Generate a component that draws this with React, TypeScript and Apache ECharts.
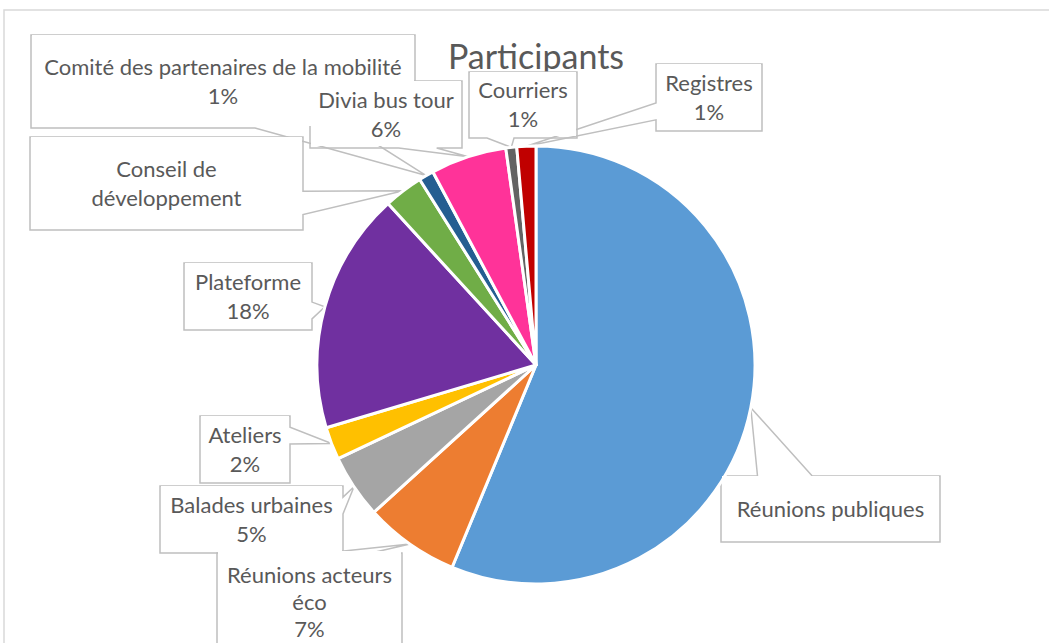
import React, { useEffect, useRef } from "react";
import * as echarts from "echarts";

const CATEGORIES = [
  "Réunions publiques",
  "Réunions acteurs éco",
  "Balades urbaines",
  "Ateliers",
  "Plateforme",
  "Conseil de développement",
  "Comité des partenaires de la mobilité",
  "Divia bus tour",
  "Courriers",
  "Registres",
];
const VALUES = [56.2, 7.0, 4.7, 2.4, 17.8, 2.9, 1.1, 5.6, 0.8, 1.4];
const LABEL_LINES = [
  "Réunions publiques",
  "Réunions acteurs\néco",
  "Balades urbaines",
  "Ateliers",
  "Plateforme",
  "Conseil de\ndéveloppement",
  "Comité des partenaires de la mobilité",
  "Divia bus tour",
  "Courriers",
  "Registres",
];
const SHOW_PERCENT = [false, true, true, true, true, false, true, true, true, true];
const COLORS = [
  "#5B9BD5",
  "#ED7D31",
  "#A5A5A5",
  "#FFC000",
  "#7030A0",
  "#70AD47",
  "#255E91",
  "#FF3399",
  "#636363",
  "#C00000",
];
const TITLE = "Participants";

// callout boxes (layout): x, y, w, h, text offset, line height
const LABEL_BOXES = [
  { x: 721, y: 476, w: 219, h: 66, ty: -1, lh: 29 },
  { x: 217, y: 553, w: 185, h: 102, ty: -3, lh: 27 },
  { x: 160, y: 486, w: 183, h: 67, ty: -1, lh: 29 },
  { x: 200, y: 416, w: 90, h: 67, ty: -1, lh: 29 },
  { x: 184, y: 263, w: 128, h: 67, ty: -1, lh: 29 },
  { x: 30, y: 137, w: 273, h: 93, ty: -1, lh: 29 },
  { x: 31, y: 35, w: 384, h: 93, ty: -1, lh: 29 },
  { x: 310, y: 81, w: 152, h: 67, ty: -1, lh: 29 },
  { x: 469, y: 72, w: 108, h: 66, ty: -1, lh: 29 },
  { x: 656, y: 64, w: 106, h: 67, ty: -1, lh: 29 },
];

const FONT = "Lato, 'Open Sans', sans-serif";
const LINE_COLOR = "#BFBFBF";

function calloutOutline(b: { x: number; y: number; w: number; h: number }, tip: number[]) {
  const { x, y, w, h } = b;
  const cx = x + w / 2;
  const cy = y + h / 2;
  const dx = tip[0] - cx;
  const dy = tip[1] - cy;
  const dz = Math.abs(dy) - Math.abs((dx * h) / w);
  const L = x, R = x + w, T = y, B = y + h;
  const xa = x + (w * (dx > 0 ? 7 : 2)) / 12;
  const xb = x + (w * (dx > 0 ? 10 : 5)) / 12;
  const ya = y + (h * (dy > 0 ? 7 : 2)) / 12;
  const yb = y + (h * (dy > 0 ? 10 : 5)) / 12;
  let pts: number[][];
  if (dz > 0) {
    if (dy < 0) pts = [[L, T], [xa, T], tip, [xb, T], [R, T], [R, B], [L, B], [L, T]];
    else pts = [[L, T], [R, T], [R, B], [xb, B], tip, [xa, B], [L, B], [L, T]];
  } else {
    if (dx < 0) pts = [[L, T], [R, T], [R, B], [L, B], [L, yb], tip, [L, ya], [L, T]];
    else pts = [[L, T], [R, T], [R, ya], tip, [R, yb], [R, B], [L, B], [L, T]];
  }
  pts.push(pts[1]);
  return pts;
}

export default function App() {
  const ref = useRef<HTMLDivElement>(null);

  useEffect(() => {
    document.body.style.margin = "0";
    if (!ref.current) return;
    const chart = echarts.init(ref.current, undefined, { renderer: "svg" });

    const data = CATEGORIES.map((name, i) => ({
      name,
      value: VALUES[i],
      itemStyle: { color: COLORS[i] },
      label: {
        width: LABEL_BOXES[i].w - 2,
        height: LABEL_BOXES[i].h - 2,
        lineHeight: LABEL_BOXES[i].lh,
      },
    }));

    chart.setOption({
      animation: false,
      backgroundColor: "#ffffff",
      graphic: [
        {
          type: "rect",
          shape: { x: 4, y: 10, width: 1100, height: 700 },
          style: { fill: "none", stroke: "#D9D9D9", lineWidth: 1.5 },
          silent: true,
          z: -10,
        },
        {
          type: "text",
          x: 536,
          y: 55,
          style: {
            text: TITLE,
            fill: "#595959",
            fontSize: 34,
            fontFamily: FONT,
            align: "center",
            verticalAlign: "middle",
          },
          silent: true,
        },
      ],
      series: [
        {
          type: "pie",
          center: [536, 365],
          radius: 219,
          startAngle: 90,
          clockwise: true,
          avoidLabelOverlap: false,
          silent: true,
          emphasis: { disabled: true },
          itemStyle: { borderColor: "#ffffff", borderWidth: 3 },
          label: {
            show: true,
            position: "outside",
            overflow: "none",
            color: "#595959",
            fontFamily: FONT,
            fontSize: 22,
            lineHeight: 29,
            backgroundColor: "#ffffff",
            padding: 0,
            align: "center",
            verticalAlign: "middle",
            formatter: (p: any) =>
              LABEL_LINES[p.dataIndex] +
              (SHOW_PERCENT[p.dataIndex] ? "\n" + Math.round(p.percent) + "%" : ""),
          },
          labelLine: {
            show: true,
            length: 10,
            length2: 10,
            smooth: false,
            lineStyle: { color: LINE_COLOR, width: 1.5 },
          },
          labelLayout: (params: any) => {
            const i = params.dataIndex;
            const b = LABEL_BOXES[i];
            const pts = params.labelLinePoints;
            const tip = pts && pts[0] ? [pts[0][0], pts[0][1]] : [b.x + b.w / 2, b.y + b.h + 20];
            return {
              x: b.x + b.w / 2,
              y: b.y + b.h / 2 + b.ty,
              align: "center",
              verticalAlign: "middle",
              width: b.w - 2,
              height: b.h - 2,
              labelLinePoints: calloutOutline(b, tip),
            };
          },
          data,
        },
      ],
    });

    return () => chart.dispose();
  }, []);

  return <div ref={ref} style={{ width: 1049, height: 643 }} />;
}
